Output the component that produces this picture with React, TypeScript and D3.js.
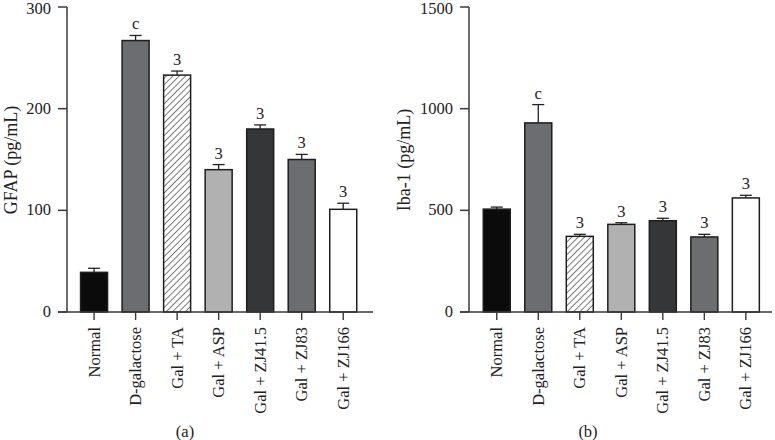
import React from "react";
import * as d3 from "d3";

const categories = ["Normal", "D-galactose", "Gal + TA", "Gal + ASP", "Gal + ZJ41.5", "Gal + ZJ83", "Gal + ZJ166"];
const fills = ["#0b0b0b", "#6c6d71", "hatch", "#b1b1b1", "#353638", "#6c6d71", "#ffffff"];

const gfapMean = [39, 267, 233, 140, 180, 150, 101];
const gfapErr = [4, 5, 4, 5, 4, 5, 6];
const gfapMarks = ["", "c", "3", "3", "3", "3", "3"];
const gfapTicks = [0, 100, 200, 300];

const ibaMean = [506, 930, 372, 431, 449, 369, 561];
const ibaErr = [10, 90, 10, 8, 12, 13, 13];
const ibaMarks = ["", "c", "3", "3", "3", "3", "3"];
const ibaTicks = [0, 500, 1000, 1500];

const FONT = "'Liberation Serif', serif";
const AXIS = "#3a3a3a";
const FS = 16.5;

type PanelProps = {
  id: string;
  axisX: number;
  axisRight: number;
  bandStart: number;
  bandEnd: number;
  yMax: number;
  ticks: number[];
  means: number[];
  errs: number[];
  marks: string[];
  yLabel: string;
  yLabelX: number;
  caption: string;
  captionX: number;
};

function Panel(p: PanelProps) {
  const y = d3.scaleLinear().domain([0, p.yMax]).range([312, 7]);
  const x = d3.scaleBand<string>().domain(categories).range([p.bandStart, p.bandEnd]).paddingInner(0.35).paddingOuter(0.175);
  const bw = x.bandwidth();
  return (
    <g>
      {categories.map((c, i) => {
        const x0 = x(c)!;
        const top = y(p.means[i]);
        const errTop = y(p.means[i] + p.errs[i]);
        const cx = x0 + bw / 2;
        const f = fills[i] === "hatch" ? `url(#hatch-${p.id})` : fills[i];
        return (
          <g key={c}>
            <line x1={cx} x2={cx} y1={top} y2={errTop} stroke="#222" strokeWidth={1.3} />
            <line x1={cx - 6} x2={cx + 6} y1={errTop} y2={errTop} stroke="#222" strokeWidth={1.3} />
            <rect x={x0} y={top} width={bw} height={y(0) - top} fill={f} stroke="#1e1e1e" strokeWidth={1.5} />
            {p.marks[i] && (
              <text x={cx} y={errTop - 6} textAnchor="middle" fontSize={FS} fontFamily={FONT} fill="#222">
                {p.marks[i]}
              </text>
            )}
            <line x1={cx} x2={cx} y1={312} y2={320} stroke={AXIS} strokeWidth={1.4} />
            <text
              transform={`translate(${cx + 5.5},${327}) rotate(-90)`}
              textAnchor="end"
              fontSize={FS}
              fontFamily={FONT}
              fill="#222"
            >
              {c}
            </text>
          </g>
        );
      })}
      <line x1={p.axisX} x2={p.axisX} y1={y(p.yMax)} y2={312} stroke={AXIS} strokeWidth={1.5} />
      <line x1={p.axisX - 9} x2={p.axisRight} y1={312} y2={312} stroke={AXIS} strokeWidth={1.5} />
      {p.ticks.map((t) => (
        <g key={t}>
          <line x1={p.axisX - 9} x2={p.axisX} y1={y(t)} y2={y(t)} stroke={AXIS} strokeWidth={1.5} />
          <text x={p.axisX - 16} y={Math.max(y(t) + 5, 13.5)} textAnchor="end" fontSize={FS} fontFamily={FONT} fill="#222">
            {t}
          </text>
        </g>
      ))}
      <text
        transform={`translate(${p.yLabelX},${160}) rotate(-90)`}
        textAnchor="middle"
        fontSize={18}
        fontFamily={FONT}
        fill="#222"
      >
        {p.yLabel}
      </text>
      <text x={p.captionX} y={437} textAnchor="middle" fontSize={FS} fontFamily={FONT} fill="#222">
        {p.caption}
      </text>
    </g>
  );
}

export default function App() {
  return (
    <svg width={775} height={440} style={{ position: "absolute", left: 0, top: 0, background: "#fff" }}>
      <defs>
        {["a", "b"].map((id) => (
          <pattern key={id} id={`hatch-${id}`} patternUnits="userSpaceOnUse" width={4.5} height={4.5} patternTransform="rotate(45)">
            <rect width={4.5} height={4.5} fill="#fff" />
            <line x1={0} y1={0} x2={0} y2={4.5} stroke="#222" strokeWidth={1.2} />
          </pattern>
        ))}
      </defs>
      <rect width={775} height={440} fill="#fff" />
      <Panel
        id="a"
        axisX={67}
        axisRight={373}
        bandStart={73.3}
        bandEnd={364}
        yMax={300}
        ticks={gfapTicks}
        means={gfapMean}
        errs={gfapErr}
        marks={gfapMarks}
        yLabel="GFAP (pg/mL)"
        yLabelX={17}
        caption="(a)"
        captionX={185}
      />
      <Panel
        id="b"
        axisX={469}
        axisRight={772}
        bandStart={476}
        bandEnd={766.6}
        yMax={1500}
        ticks={ibaTicks}
        means={ibaMean}
        errs={ibaErr}
        marks={ibaMarks}
        yLabel="Iba-1 (pg/mL)"
        yLabelX={410}
        caption="(b)"
        captionX={588}
      />
    </svg>
  );
}
